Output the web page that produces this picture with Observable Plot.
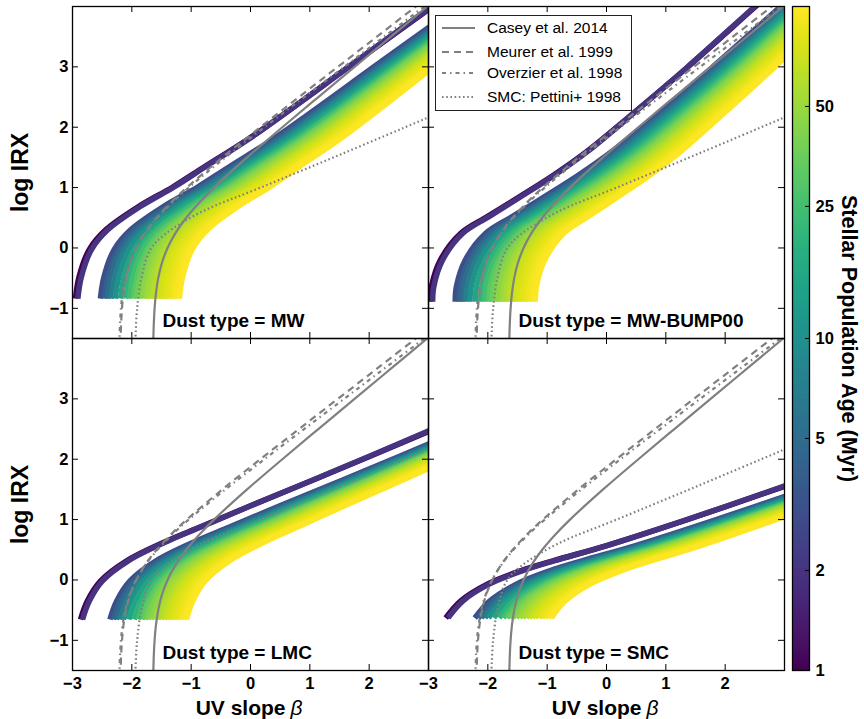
<!DOCTYPE html>
<html><head><meta charset="utf-8">
<script src="https://cdn.jsdelivr.net/npm/d3@7"></script>
<script src="https://cdn.jsdelivr.net/npm/@observablehq/plot@0.6"></script>
<style>
body{margin:0;background:#fff;font-family:"Liberation Sans",Arial,sans-serif;}
#fig{position:relative;width:864px;height:719px;overflow:hidden;}
#fig > svg{position:absolute;}
</style></head><body><div id="fig"></div>
<script>
// ---------- data ----------
const dustTypes = ["MW", "MW-BUMP00", "LMC", "SMC"];
const panelCol = [0, 1, 0, 1];
const panelRow = [0, 0, 1, 1];

const ages = [1, 2, 3, 4, 5, 7, 10, 15, 20, 25, 30, 35, 40, 45, 50, 55, 60, 65, 70, 75, 80, 85, 90, 95, 100];
// horizontal stretch of each age's track relative to the 1 Myr track
const stretch = [1.0, 0.99, 1.0, 0.998, 0.995, 0.992, 0.99, 0.985, 0.98, 0.975, 0.97, 0.966, 0.962, 0.958, 0.955, 0.951, 0.948, 0.945, 0.942, 0.94, 0.937, 0.935, 0.933, 0.931, 0.93];

// start UV slope of each age's track, per dust type
const startMW   = [-2.95, -2.91, -2.53, -2.46, -2.41, -2.35, -2.28, -2.19, -2.10, -2.04, -1.97, -1.92, -1.87, -1.81, -1.75, -1.69, -1.64, -1.59, -1.53, -1.48, -1.43, -1.37, -1.31, -1.26, -1.20];
const startBUMP = [-2.97, -2.93, -2.55, -2.48, -2.43, -2.37, -2.30, -2.21, -2.12, -2.05, -1.98, -1.93, -1.87, -1.82, -1.75, -1.70, -1.65, -1.59, -1.54, -1.48, -1.43, -1.37, -1.31, -1.26, -1.20];
const startLMC  = [-2.865, -2.83, -2.37, -2.31, -2.26, -2.20, -2.14, -2.05, -1.96, -1.89, -1.83, -1.78, -1.73, -1.67, -1.61, -1.56, -1.50, -1.45, -1.40, -1.35, -1.29, -1.24, -1.18, -1.13, -1.08];
const startSMC  = [-2.71, -2.67, -2.22, -2.16, -2.11, -2.05, -1.99, -1.90, -1.81, -1.74, -1.68, -1.63, -1.58, -1.52, -1.46, -1.41, -1.35, -1.30, -1.25, -1.20, -1.14, -1.09, -1.03, -0.98, -0.93];

// 1 Myr track shape: UV-slope offset from its start, and log IRX
const trackMW_dBeta   = [0, 0.06, 0.23, 0.51, 1.07, 1.64, 2.18, 2.95, 4.75, 5.95, 6.55];
const trackMW_irx     = [-0.84, -0.48, -0.03, 0.30, 0.69, 1.01, 1.35, 1.83, 3.10, 3.95, 4.37];
const trackBUMP_dBeta = [0, 0.02, 0.17, 0.51, 0.96, 1.52, 2.08, 2.64, 3.43, 4.33, 5.45, 6.17];
const trackBUMP_irx   = [-0.89, -0.64, -0.20, 0.24, 0.52, 0.86, 1.21, 1.60, 2.24, 2.99, 3.97, 4.60];
const trackLMC_dBeta  = [0, 0.115, 0.335, 0.785, 1.465, 2.025, 2.865, 4.275, 5.865, 6.465];
const trackLMC_irx    = [-0.655, -0.35, -0.02, 0.32, 0.65, 0.88, 1.23, 1.80, 2.46, 2.71];
const trackSMC_dBeta  = [0, 0.25, 0.70, 1.26, 1.82, 2.71, 4.07, 5.71, 6.31];
const trackSMC_irx    = [-0.63, -0.35, -0.07, 0.15, 0.32, 0.57, 1.00, 1.55, 1.75];

// literature relations (same in every panel)
const refIRX = [-1.6, -1.5, -1.25, -1.0, -0.75, -0.5, -0.25, 0, 0.25, 0.5, 0.75, 1.0, 1.5, 2.0, 2.5, 3.0, 3.5, 4.0, 4.2];
const caseyBeta    = [-1.6392, -1.6371, -1.6295, -1.6163, -1.5935, -1.5553, -1.4934, -1.3985, -1.2628, -1.0837, -0.8650, -0.6150, -0.0574, 0.5367, 1.1434, 1.7542, 2.3663, 2.9789, 3.2239];
const meurerBeta   = [-2.1912, -2.1890, -2.1805, -2.1658, -2.1405, -2.0981, -2.0297, -1.9253, -1.7767, -1.5814, -1.3442, -1.0741, -0.4734, 0.1651, 0.8167, 1.4726, 2.1299, 2.7876, 3.0507];
const overzierBeta = [-2.2106, -2.2081, -2.1991, -2.1833, -2.1563, -2.1110, -2.0383, -1.9278, -1.7715, -1.5674, -1.3208, -1.0413, -0.4221, 0.2345, 0.9041, 1.5778, 2.2528, 2.9283, 3.1985];
const smcIRX  = [-1.6, -1.5, -1.0, -0.5, -0.03, 0.22, 0.6, 1.0, 1.55, 2.13, 2.35];
const smcBeta = [-1.945, -1.94, -1.91, -1.84, -1.69, -1.45, -0.82, 0.17, 1.52, 2.92, 3.45];

const refNames = ["Casey et al. 2014", "Meurer et al. 1999", "Overzier et al. 1998", "SMC: Pettini+ 1998"];
const refDash  = [null, "7,5", "4,4,1.5,4", "1.6,2.6"];

const xTicks = [-3, -2, -1, 0, 1, 2];
const yTicks = [-1, 0, 1, 2, 3];
const cbTicks = [1, 2, 5, 10, 25, 50];

// ---------- build tables ----------
const starts = {"MW": startMW, "MW-BUMP00": startBUMP, "LMC": startLMC, "SMC": startSMC};
const tracks = {
  "MW": [trackMW_dBeta, trackMW_irx],
  "MW-BUMP00": [trackBUMP_dBeta, trackBUMP_irx],
  "LMC": [trackLMC_dBeta, trackLMC_irx],
  "SMC": [trackSMC_dBeta, trackSMC_irx]
};
const modelRows = [];
dustTypes.forEach((dust, k) => {
  const [dB, irx] = tracks[dust];
  ages.forEach((age, i) => {
    dB.forEach((d, j) => {
      modelRows.push({dust, col: panelCol[k], row: panelRow[k], age,
        beta: starts[dust][i] + stretch[i] * d, irx: irx[j]});
    });
  });
});
const refTables = [
  caseyBeta.map((b, i) => ({beta: b, irx: refIRX[i]})),
  meurerBeta.map((b, i) => ({beta: b, irx: refIRX[i]})),
  overzierBeta.map((b, i) => ({beta: b, irx: refIRX[i]})),
  smcBeta.map((b, i) => ({beta: b, irx: smcIRX[i]}))
];
const panels = dustTypes.map((dust, k) => ({dust, col: panelCol[k], row: panelRow[k]}));
const fmt = d => d < 0 ? "\u2212" + (-d) : String(d);
const FONT = "'Liberation Sans', Arial, Helvetica, sans-serif";
const GREY = "#808080";

const main = Plot.plot({
  width: 790, height: 719,
  marginLeft: 72, marginRight: 6, marginTop: 6, marginBottom: 49,
  x: {domain: [-3, 3], axis: null},
  y: {domain: [-1.5, 4], axis: null},
  fx: {domain: [0, 1], padding: 0, axis: null},
  fy: {domain: [0, 1], padding: 0, axis: null},
  color: {type: "log", domain: [1, 100], scheme: "viridis"},
  style: {fontFamily: FONT, fontSize: "16px", color: "black", background: "transparent"},
  marks: [
    Plot.line(modelRows, {x: "beta", y: "irx", z: "age", stroke: "age", fx: "col", fy: "row",
      strokeWidth: 5.5, curve: "catmull-rom", clip: true, strokeLinecap: "butt", strokeLinejoin: "round"}),
    ...refTables.map((t, i) => Plot.line(t, {x: "beta", y: "irx", stroke: GREY, strokeWidth: 2.2,
      strokeDasharray: refDash[i], curve: "catmull-rom", clip: true, strokeLinecap: "butt"})),
    // inward ticks on all four sides
    Plot.tickY(yTicks, {y: d => d, insetRight: 350, stroke: "black", strokeWidth: 1}),
    Plot.tickY(yTicks, {y: d => d, insetLeft: 350, stroke: "black", strokeWidth: 1}),
    Plot.tickX(xTicks, {x: d => d, insetBottom: 326, stroke: "black", strokeWidth: 1}),
    Plot.tickX(xTicks, {x: d => d, insetTop: 326, stroke: "black", strokeWidth: 1}),
    Plot.frame({stroke: "black", strokeWidth: 1.3}),
    Plot.axisY(yTicks, {anchor: "left", tickSize: 0, tickPadding: 4, tickFormat: fmt,
      fontSize: 16.5, fontWeight: "bold", label: null}),
    Plot.axisX(xTicks, {anchor: "bottom", tickSize: 0, tickPadding: 7, tickFormat: fmt,
      fontSize: 16.5, fontWeight: "bold", label: null}),
    Plot.text(panels, {fx: "col", fy: "row", text: d => "Dust type = " + d.dust,
      frameAnchor: "bottom-left", dx: 90, dy: -18, textAnchor: "start", lineAnchor: "middle",
      fontSize: 19, fontWeight: "bold", fill: "black"}),
    Plot.text(panels.filter(p => p.col === 0), {fx: "col", fy: "row", text: () => "log IRX",
      frameAnchor: "left", dx: -52, rotate: -90, textAnchor: "middle", lineAnchor: "middle",
      fontSize: 23, fontWeight: "bold", fill: "black"}),
    Plot.text(panels.filter(p => p.row === 1), {fx: "col", fy: "row", text: () => "UV slope",
      frameAnchor: "bottom", dx: 35, dy: 38, textAnchor: "end", lineAnchor: "middle",
      fontSize: 21, fontWeight: "bold", fill: "black"}),
    Plot.text(panels.filter(p => p.row === 1), {fx: "col", fy: "row", text: () => "\u03b2",
      frameAnchor: "bottom", dx: 40, dy: 38, textAnchor: "start", lineAnchor: "middle",
      fontSize: 21, fontStyle: "italic", fill: "black"})
  ]
});
main.style.left = "0px"; main.style.top = "0px";
document.getElementById("fig").appendChild(main);

// ---------- colour bar ----------
const bands = d3.range(240).map(i => ({lo: 10 ** (2 * i / 240), hi: 10 ** (2 * (i + 1.3) / 240), mid: 10 ** (2 * (i + 0.5) / 240)}));
const cbar = Plot.plot({
  width: 84, height: 719,
  marginLeft: 12, marginRight: 55, marginTop: 6, marginBottom: 49,
  x: {domain: [0, 1], axis: null},
  y: {type: "log", domain: [1, 100], axis: null},
  color: {type: "log", domain: [1, 100], scheme: "viridis"},
  style: {fontFamily: FONT, fontSize: "16px", color: "black", background: "transparent", overflow: "visible"},
  marks: [
    Plot.rect(bands, {x1: 0, x2: 1, y1: "lo", y2: d => Math.min(d.hi, 100), fill: "mid", shapeRendering: "crispEdges"}),
    Plot.tickY(cbTicks, {y: d => d, insetLeft: 13, stroke: "black"}),
    Plot.frame({stroke: "black", strokeWidth: 1.3}),
    Plot.axisY(cbTicks, {anchor: "right", tickSize: 0, tickPadding: 6, tickFormat: d => String(d),
      fontSize: 16.5, fontWeight: "bold", label: null}),
    Plot.text(["Stellar Population Age (Myr)"], {text: d => d, frameAnchor: "right", dx: 39, rotate: 90,
      textAnchor: "middle", lineAnchor: "middle", fontSize: 21.5, fontWeight: "bold", fill: "black"})
  ]
});
cbar.style.left = "780px"; cbar.style.top = "0px";
document.getElementById("fig").appendChild(cbar);

// ---------- legend box ----------
const leg = d3.select("#fig").append("svg")
  .attr("width", 198).attr("height", 97)
  .style("left", "435px").style("top", "15px").style("position", "absolute");
leg.append("rect").attr("x", 0.5).attr("y", 0.5).attr("width", 196).attr("height", 95)
  .attr("fill", "white").attr("stroke", "#222").attr("stroke-width", 1);
const rowY = [13, 37, 58, 82];
refNames.forEach((name, i) => {
  leg.append("line").attr("x1", 7).attr("x2", 40).attr("y1", rowY[i]).attr("y2", rowY[i])
    .attr("stroke", GREY).attr("stroke-width", 2.2)
    .attr("stroke-dasharray", refDash[i]);
  leg.append("text").attr("x", 52).attr("y", rowY[i]).attr("dy", "0.35em")
    .attr("font-family", FONT).attr("font-size", 15.5).attr("fill", "black").text(name);
});
</script>
</body></html>
